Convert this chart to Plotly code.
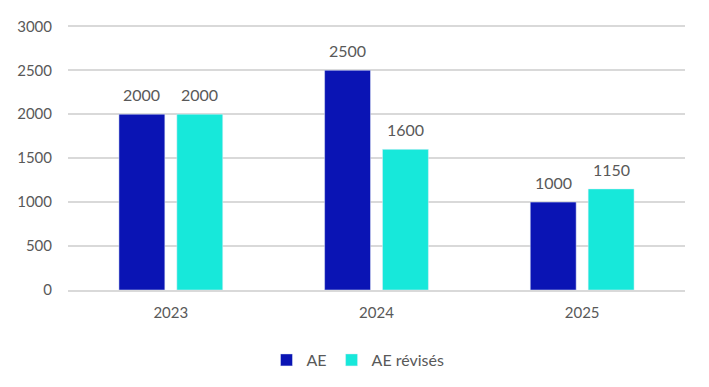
import plotly.graph_objects as go

years = ["2023", "2024", "2025"]
ae = [2000, 2500, 1000]
ae_revises = [2000, 1600, 1150]
series_names = ["AE", "AE révisés"]
colors = ["#0A14B4", "#17E8DA"]

text_color = "#595959"

fig = go.Figure()
for name, vals, col in zip(series_names, [ae, ae_revises], colors):
    fig.add_trace(go.Bar(name=name, x=years, y=vals, marker_color=col))

annotations = []
for vals, shift in [(ae, -29), (ae_revises, 29)]:
    for i, v in enumerate(vals):
        annotations.append(dict(x=i, y=v, xref="x", yref="y", text=str(v),
                                showarrow=False, xshift=shift, yshift=8,
                                yanchor="bottom",
                                font=dict(size=16, color=text_color)))

fig.update_layout(
    width=709, height=387,
    margin=dict(l=59, r=32, t=9, b=105),
    paper_bgcolor="white", plot_bgcolor="white",
    barmode="group", bargap=0.437, bargroupgap=0.207,
    font=dict(family="Lato", size=15, color=text_color),
    annotations=annotations,
    xaxis=dict(type="category", range=[-0.5, 2.5], showgrid=False, showline=True,
               linecolor="#D9D9D9", linewidth=1.5, ticks="outside", ticklen=8,
               tickcolor="white"),
    yaxis=dict(range=[0, 3015], dtick=500, showgrid=True, gridcolor="#D9D9D9",
               gridwidth=1.5, zeroline=False, ticks="outside", ticklen=12,
               tickcolor="white"),
    legend=dict(orientation="h", x=0.47, xanchor="center", y=-0.2, yanchor="top",
                itemwidth=30, font=dict(size=16, color=text_color)),
)

fig.write_html("out.html")
